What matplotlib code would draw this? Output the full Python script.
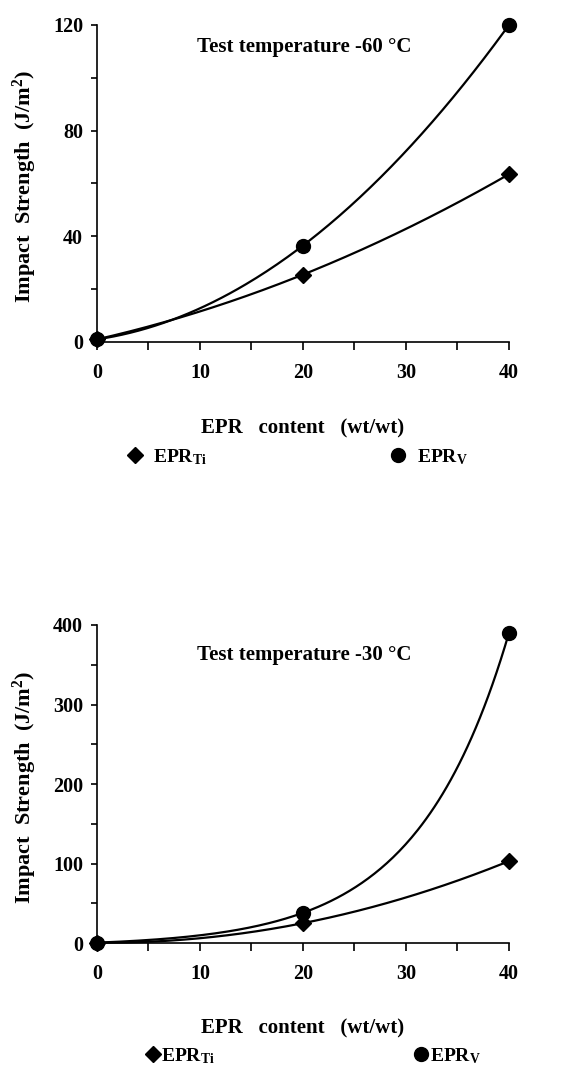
import numpy as np
import matplotlib
matplotlib.use("Agg")
import matplotlib.pyplot as plt
from matplotlib.lines import Line2D
from matplotlib.ticker import MultipleLocator

plt.rcParams["font.family"] = ["Liberation Serif", "DejaVu Serif"]
plt.rcParams["font.weight"] = "bold"
plt.rcParams["mathtext.fontset"] = "custom"
plt.rcParams["mathtext.rm"] = "Liberation Serif:bold"
plt.rcParams["mathtext.default"] = "rm"

# data
epr_content = [0, 20, 40]
ti_60 = [1, 25.5, 63.5]
v_60 = [1, 36.5, 120]
ti_30 = [0.5, 25, 103]
v_30 = [0.5, 38, 390]

titles = ["Test temperature -60 \u00b0C", "Test temperature -30 \u00b0C"]
ymax = [120, 400]
ymajor = [40, 100]
yminor = [20, 50]
# how the smooth curve through each series is drawn
fit_kind = [("poly", "poly"), ("poly", "exp")]


def trend(x, y, kind, xs):
    x = np.asarray(x, float)
    y = np.asarray(y, float)
    if kind == "poly":
        return np.polyval(np.polyfit(x, y, 2), xs)
    # y = a + b*exp(c*x) through three equally spaced points
    h = x[1] - x[0]
    c = np.log((y[2] - y[1]) / (y[1] - y[0])) / h
    b = (y[1] - y[0]) / (np.exp(c * x[1]) - np.exp(c * x[0]))
    a = y[0] - b * np.exp(c * x[0])
    return a + b * np.exp(c * xs)


fig = plt.figure(figsize=(5.62, 10.68), dpi=100)
axes = [fig.add_axes([0.1726, 0.6798, 0.733, 0.2968]),
        fig.add_axes([0.1726, 0.1170, 0.733, 0.2978])]

panels = [(ti_60, v_60), (ti_30, v_30)]
title_y = [0.931, 0.906]
leg_cfg = [dict(x=0.486, y=-0.363, pad=0.55, cs=9.45),
           dict(x=0.524, y=-0.355, pad=0.05, cs=10.2)]
xlab_y = [-0.24, -0.236]

xs = np.linspace(0, 40, 200)
for i, ax in enumerate(axes):
    ti, v = panels[i]
    k_ti, k_v = fit_kind[i]
    ax.plot(xs, trend(epr_content, ti, k_ti, xs), color="black", lw=1.6, clip_on=False)
    ax.plot(xs, trend(epr_content, v, k_v, xs), color="black", lw=1.6, clip_on=False)
    ax.plot(epr_content, ti, "D", color="black", ms=8, clip_on=False, zorder=5)
    ax.plot(epr_content, v, "o", color="black", ms=10, clip_on=False, zorder=5)

    ax.set_xlim(0, 40)
    ax.set_ylim(0, ymax[i])
    ax.spines["top"].set_visible(False)
    ax.spines["right"].set_visible(False)
    ax.spines["left"].set_linewidth(1.2)
    ax.spines["bottom"].set_linewidth(1.2)
    ax.xaxis.set_major_locator(MultipleLocator(10))
    ax.xaxis.set_minor_locator(MultipleLocator(5))
    ax.yaxis.set_major_locator(MultipleLocator(ymajor[i]))
    ax.yaxis.set_minor_locator(MultipleLocator(yminor[i]))
    ax.tick_params(axis="x", which="both", direction="out", length=6, width=1.2,
                   labelsize=14.5, pad=9)
    ax.tick_params(axis="y", which="both", direction="out", length=4, width=1.2,
                   labelsize=14.5, pad=6)

    ax.set_xlabel("EPR   content   (wt/wt)", fontsize=15, fontweight="bold")
    ax.xaxis.set_label_coords(0.5, xlab_y[i])
    ax.set_ylabel("Impact  Strength  (J/m$^2$)", fontsize=16, fontweight="bold")
    ax.yaxis.set_label_coords(-0.142, 0.49)

    ax.text(0.502, title_y[i], titles[i], transform=ax.transAxes, ha="center",
            va="center", fontsize=15, fontweight="bold")

    c = leg_cfg[i]
    handles = [Line2D([], [], ls="", marker="D", color="black", ms=8),
               Line2D([], [], ls="", marker="o", color="black", ms=10)]
    ax.legend(handles, ["EPR$_{Ti}$", "EPR$_{V}$"], ncol=2, loc="center",
              bbox_to_anchor=(c["x"], c["y"]), frameon=False, fontsize=14,
              handlelength=0.8, handletextpad=c["pad"], columnspacing=c["cs"])

fig.savefig("out.png", dpi=100)
